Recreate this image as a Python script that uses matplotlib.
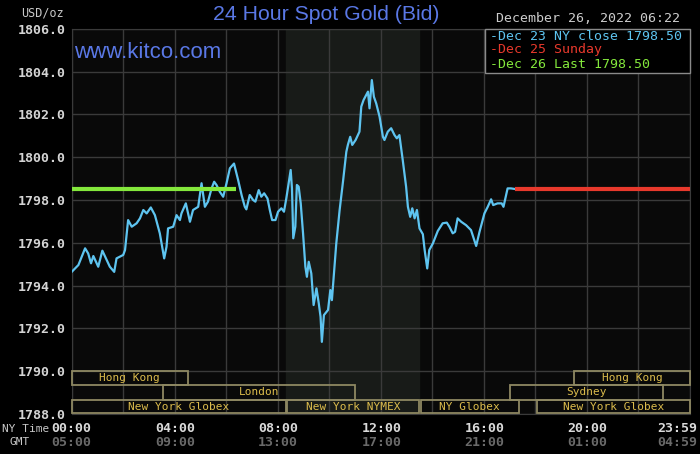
import matplotlib
matplotlib.use("Agg")
import matplotlib.pyplot as plt
from matplotlib.patches import Rectangle

# Dec 23 bid, NY time in hours
times = [
    0.00, 0.26, 0.52, 0.64, 0.75, 0.84, 1.03, 1.19, 1.36, 1.48, 1.65, 1.74,
    2.00, 2.07, 2.13, 2.19, 2.33, 2.52, 2.65, 2.78, 2.91, 3.07, 3.23, 3.42,
    3.59, 3.68, 3.74, 3.94, 4.07, 4.20, 4.26, 4.43, 4.59, 4.71, 4.91, 5.04,
    5.17, 5.29, 5.43, 5.53, 5.62, 5.75, 5.88, 6.01, 6.14, 6.30, 6.46, 6.60,
    6.72, 6.78, 6.91, 7.04, 7.13, 7.26, 7.36, 7.47, 7.60, 7.69, 7.78, 7.91,
    8.01, 8.14, 8.24, 8.33, 8.42, 8.50, 8.55, 8.60, 8.68, 8.74, 8.81, 8.89,
    8.98, 9.07, 9.13, 9.20, 9.30, 9.39, 9.50, 9.59, 9.66, 9.71, 9.79, 9.95,
    10.04, 10.10, 10.18, 10.27, 10.40, 10.53, 10.66, 10.72, 10.81, 10.89,
    11.02, 11.17, 11.24, 11.33, 11.43, 11.50, 11.56, 11.65, 11.73, 11.82,
    11.95, 12.08, 12.14, 12.27, 12.40, 12.53, 12.62, 12.72, 12.85, 12.98,
    13.05, 13.14, 13.22, 13.31, 13.40, 13.50, 13.63, 13.70, 13.80, 13.88,
    14.02, 14.21, 14.40, 14.56, 14.66, 14.79, 14.88, 14.98, 15.12, 15.31,
    15.50, 15.70, 15.83, 16.02, 16.15, 16.28, 16.36, 16.53, 16.69, 16.76,
    16.92, 17.05, 17.21,
]
prices = [
    1794.64, 1794.96, 1795.74, 1795.50, 1795.04, 1795.38, 1794.88, 1795.63,
    1795.19, 1794.88, 1794.64, 1795.27, 1795.43, 1795.66, 1796.36, 1797.06,
    1796.75, 1796.91, 1797.14, 1797.53, 1797.37, 1797.65, 1797.29, 1796.44,
    1795.27, 1795.81, 1796.67, 1796.75, 1797.29, 1797.06, 1797.37, 1797.84,
    1796.98, 1797.53, 1797.68, 1798.78, 1797.68, 1797.92, 1798.54, 1798.85,
    1798.70, 1798.38, 1798.15, 1798.78, 1799.48, 1799.70, 1798.93, 1798.20,
    1797.68, 1797.56, 1798.23, 1798.00, 1797.92, 1798.46, 1798.15, 1798.31,
    1798.07, 1797.53, 1797.06, 1797.06, 1797.45, 1797.61, 1797.45, 1798.07,
    1798.78, 1799.40, 1798.54, 1796.21, 1796.75, 1798.70, 1798.62, 1797.84,
    1796.44, 1794.88, 1794.41, 1795.11, 1794.57, 1793.09, 1793.87, 1793.17,
    1792.54, 1791.37, 1792.62, 1792.86, 1793.79, 1793.32, 1794.57, 1795.97,
    1797.53, 1798.85, 1800.25, 1800.57, 1800.95, 1800.57, 1800.80, 1801.19,
    1802.36, 1802.67, 1802.90, 1803.06, 1802.28, 1803.60, 1802.82, 1802.51,
    1801.89, 1800.95, 1800.80, 1801.19, 1801.35, 1801.03, 1800.88, 1801.03,
    1799.86, 1798.62, 1797.68, 1797.21, 1797.61, 1797.14, 1797.53, 1796.67,
    1796.40, 1795.66, 1794.80, 1795.66, 1795.97, 1796.55, 1796.91, 1796.94,
    1796.75, 1796.44, 1796.51, 1797.14, 1796.98, 1796.82, 1796.59, 1795.85,
    1796.51, 1797.37, 1797.68, 1798.03, 1797.76, 1797.84, 1797.84, 1797.68,
    1798.54, 1798.54, 1798.51,
]

close_price = 1798.50
last_price = 1798.50
last_span = [0.0, 6.37]       # Dec 26 so far
sunday_span = [17.21, 24.0]   # Dec 25

ny_labels = ["00:00", "04:00", "08:00", "12:00", "16:00", "20:00", "23:59"]
gmt_labels = ["05:00", "09:00", "13:00", "17:00", "21:00", "01:00", "04:59"]
label_hours = [0, 4, 8, 12, 16, 20, 24]

# market sessions: name, start hour, end hour, row (0 = top)
markets = [
    ("Hong Kong", 0.0, 4.5, 0),
    ("Hong Kong", 19.5, 24.0, 0),
    ("London", 3.53, 11.0, 1),
    ("Sydney", 17.0, 22.96, 1),
    ("New York Globex", 0.0, 8.30, 2),
    ("New York NYMEX", 8.36, 13.48, 2),
    ("NY Globex", 13.55, 17.35, 2),
    ("New York Globex", 18.05, 24.0, 2),
]
nymex_span = [8.33, 13.5]

W, H = 700, 454
BG = "#000000"
GRID = "#3a3a3a"
MONO = "DejaVu Sans Mono"


def fx(x):
    return x / W


def fy(y):
    return 1 - y / H


fig = plt.figure(figsize=(7, 4.54), dpi=100, facecolor=BG)
ax = fig.add_axes([fx(71.7), fy(414), fx(690 - 71.7), (414 - 28.7) / H])
ax.set_facecolor("#090909")

ax.axvspan(*nymex_span, color="#181b18", zorder=0)

ax.set_xlim(0, 24)
ax.set_ylim(1788, 1806)
ax.set_xticks(range(0, 25, 2))
ax.set_yticks(range(1788, 1807, 2))
ax.grid(True, color=GRID, linewidth=1.0, zorder=1)
ax.tick_params(length=0, labelbottom=False)
ax.set_yticklabels([f"{v:.1f}" for v in range(1788, 1807, 2)],
                   family=MONO, fontsize=9.5, color="#d4d4d4",
                   fontweight="bold")
ax.tick_params(axis="y", pad=4)
for s in ax.spines.values():
    s.set_color(GRID)

ax.plot(times, prices, color="#5ec4f0", linewidth=1.6, zorder=4)
ax.plot(last_span, [last_price] * 2, color="#84e83c", linewidth=3, zorder=5,
        solid_capstyle="butt")
ax.plot(sunday_span, [close_price] * 2, color="#e8392c", linewidth=3,
        zorder=5, solid_capstyle="butt")

# market session boxes
row_edges = [(1789.35, 1790.0), (1788.67, 1789.35), (1788.03, 1788.67)]
for name, start, end, row in markets:
    lo, hi = row_edges[row]
    ax.add_patch(Rectangle((start, lo), end - start, hi - lo, fill=False,
                           edgecolor="#8e8862", linewidth=1.3, zorder=6,
                           clip_on=False))
    ax.text((start + end) / 2, (lo + hi) / 2, name, ha="center",
            va="center", family=MONO, fontsize=8, color="#dcbc4c", zorder=7)

# x labels, two rows
for h, ny, gmt in zip(label_hours, ny_labels, gmt_labels):
    px = 71.7 + h * 25.8
    ha = "center"
    if h == 24:
        px, ha = 697, "right"
    fig.text(fx(px), fy(429), ny, ha=ha, va="center", family=MONO,
             fontsize=9.5, color="#dadada", fontweight="bold")
    fig.text(fx(px), fy(442), gmt, ha=ha, va="center", family=MONO,
             fontsize=9.5, color="#6a6a6a", fontweight="bold")
fig.text(fx(2), fy(429), "NY Time", ha="left", va="center", family=MONO,
         fontsize=8, color="#c8c8c8")
fig.text(fx(20), fy(442), "GMT", ha="center", va="center", family=MONO,
         fontsize=8, color="#c8c8c8")

fig.text(fx(43), fy(13), "USD/oz", ha="center", va="center", family=MONO,
         fontsize=8.5, color="#c8c8c8")
fig.text(fx(326), fy(15), "24 Hour Spot Gold (Bid)", ha="center",
         va="center", family="Liberation Sans", fontsize=15.3,
         color="#5a78e6")
fig.text(fx(74), fy(53), "www.kitco.com", ha="left", va="center",
         family="Liberation Sans", fontsize=16, color="#5a78e6")
fig.text(fx(588), fy(19), "December 26, 2022 06:22", ha="center",
         va="center", family=MONO, fontsize=9.5, color="#cccccc")

# legend box
fig.patches.append(Rectangle((fx(485), fy(73)), fx(690 - 485), (73 - 29) / H,
                             transform=fig.transFigure, facecolor=BG,
                             edgecolor="#8a8a8a", linewidth=1.0, zorder=10))
legend = [
    (f"-Dec 23 NY close {close_price:.2f}", "#5ec4f0"),
    ("-Dec 25 Sunday", "#e8392c"),
    (f"-Dec 26 Last {last_price:.2f}", "#84e83c"),
]
for i, (txt, col) in enumerate(legend):
    fig.text(fx(490), fy(36 + 14 * i), txt, ha="left", va="center",
             family=MONO, fontsize=9.5, color=col, zorder=11)

fig.savefig("out.png", dpi=100, facecolor=BG)
